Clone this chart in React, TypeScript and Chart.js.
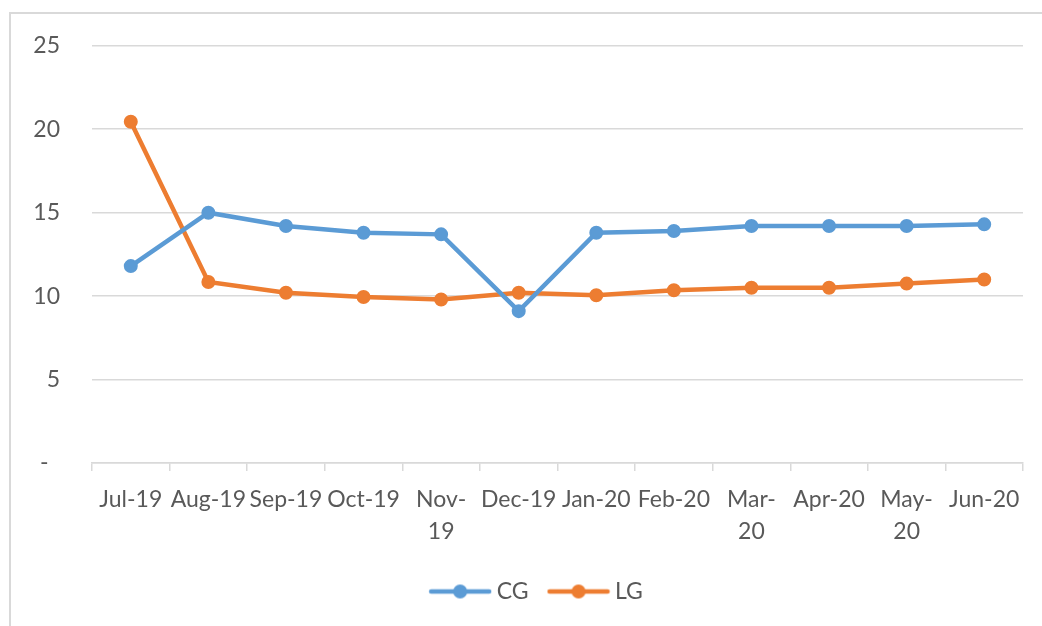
import React, { useEffect, useRef } from "react";
import { Chart, registerables } from "chart.js";

Chart.register(...registerables);

const categories: (string | string[])[] = [
  "Jul-19", "Aug-19", "Sep-19", "Oct-19", ["Nov-", "19"], "Dec-19",
  "Jan-20", "Feb-20", ["Mar-", "20"], "Apr-20", ["May-", "20"], "Jun-20",
];
const cgValues = [11.8, 15.0, 14.2, 13.8, 13.7, 9.1, 13.8, 13.9, 14.2, 14.2, 14.2, 14.3];
const lgValues = [20.45, 10.85, 10.2, 9.95, 9.8, 10.2, 10.05, 10.35, 10.5, 10.5, 10.75, 11.0];
const yTicks = [0, 5, 10, 15, 20, 25];

const BLUE = "#5B9BD5";
const ORANGE = "#ED7D31";
const TEXT = "#595959";
const GRID = "#D9D9D9";
const FONT = "Lato";

function legendImage(color: string): HTMLCanvasElement {
  const c = document.createElement("canvas");
  c.width = 64;
  c.height = 18;
  const ctx = c.getContext("2d")!;
  ctx.strokeStyle = color;
  ctx.lineWidth = 4.5;
  ctx.lineCap = "round";
  ctx.beginPath();
  ctx.moveTo(3, 9);
  ctx.lineTo(61, 9);
  ctx.stroke();
  ctx.fillStyle = color;
  ctx.beginPath();
  ctx.arc(32, 9, 7, 0, Math.PI * 2);
  ctx.fill();
  return c;
}

const shiftLegend = {
  id: "shiftLegend",
  afterLayout(chart: any) {
    if (chart.legend) chart.legend.left = 55;
  },
};

export default function App() {
  const ref = useRef<HTMLCanvasElement>(null);

  useEffect(() => {
    if (!ref.current) return;
    const imgs = [legendImage(BLUE), legendImage(ORANGE)];
    const chart = new Chart(ref.current, {
      type: "line",
      data: {
        labels: categories,
        datasets: [
          {
            label: "CG",
            data: cgValues,
            borderColor: BLUE,
            backgroundColor: BLUE,
            borderWidth: 4.5,
            pointRadius: 6,
            pointBorderWidth: 2,
            pointBackgroundColor: BLUE,
            pointBorderColor: BLUE,
            tension: 0,
          },
          {
            label: "LG",
            data: lgValues,
            borderColor: ORANGE,
            backgroundColor: ORANGE,
            borderWidth: 4.5,
            pointRadius: 6,
            pointBorderWidth: 2,
            pointBackgroundColor: ORANGE,
            pointBorderColor: ORANGE,
            tension: 0,
          },
        ],
      },
      options: {
        responsive: false,
        animation: false,
        layout: { padding: { top: 44, left: 0, right: 19, bottom: 13 } },
        scales: {
          x: {
            offset: true,
            afterFit: (s: any) => { s.height = 92; },
            grid: {
              offset: true,
              drawOnChartArea: false,
              drawTicks: true,
              tickLength: 8,
              color: GRID,
              lineWidth: 1.5,
            },
            border: { display: true, color: GRID, width: 1.5 },
            ticks: {
              autoSkip: false,
              maxRotation: 0,
              minRotation: 0,
              padding: 12,
              color: TEXT,
              font: { family: FONT, size: 23, lineHeight: 1.4 },
            },
          },
          y: {
            min: 0,
            max: 25,
            afterFit: (s: any) => { s.width = 92; },
            afterBuildTicks: (s: any) => { s.ticks = yTicks.map((v) => ({ value: v })); },
            grid: { drawTicks: false, color: GRID, lineWidth: 1.5 },
            border: { display: false },
            ticks: {
              padding: 32,
              color: TEXT,
              font: { family: FONT, size: 23 },
              callback: (v: any) => (Number(v) === 0 ? "-\u2002" : String(v)),
            },
          },
        },
        plugins: {
          tooltip: { enabled: false },
          legend: {
            display: true,
            position: "bottom",
            labels: {
              usePointStyle: true,
              pointStyleWidth: 50,
              padding: 25,
              color: TEXT,
              font: { family: FONT, size: 23 },
              generateLabels: (ch: any) => {
                const items = Chart.defaults.plugins.legend.labels.generateLabels(ch);
                return items.map((it: any, i: number) => ({ ...it, pointStyle: imgs[i] }));
              },
            },
          },
        },
      },
      plugins: [shiftLegend],
    });
    return () => chart.destroy();
  }, []);

  return (
    <div style={{ position: "absolute", left: 0, top: 0, width: 1042, height: 626, overflow: "hidden", background: "#fff" }}>
      <div
        style={{
          position: "absolute",
          left: 9,
          top: 12,
          width: 1100,
          height: 700,
          border: `2px solid ${GRID}`,
        }}
      />
      <canvas ref={ref} width={1042} height={626} style={{ position: "absolute", left: 0, top: 0, display: "block" }} />
    </div>
  );
}
